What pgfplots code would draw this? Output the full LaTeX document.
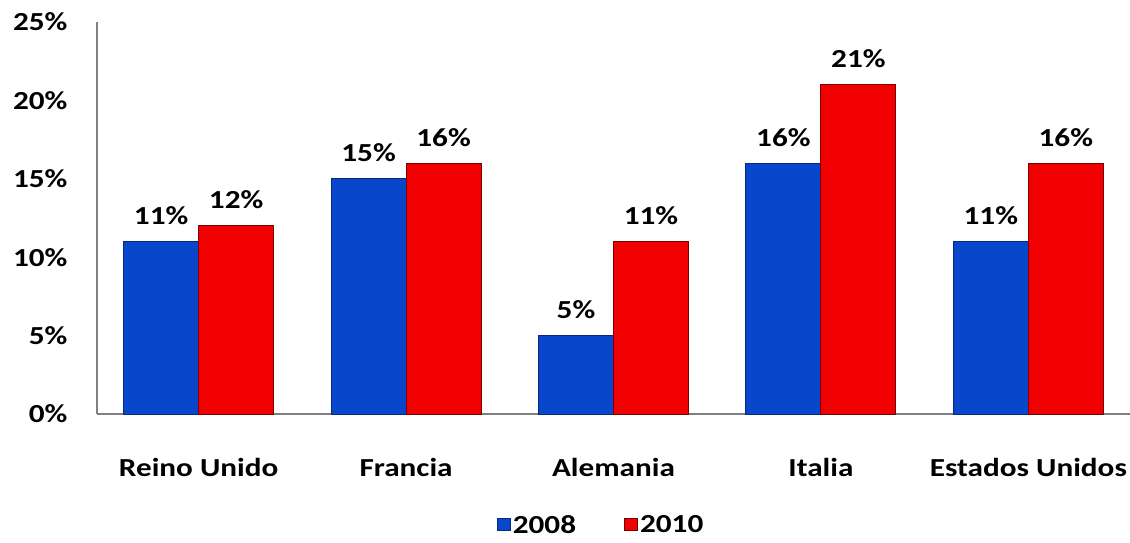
\documentclass[border=0pt]{standalone}
\usepackage{fontspec}
\setmainfont{Carlito}[FakeStretch=1.2]
\usepackage{pgfplots}
\pgfplotsset{compat=1.18}
\definecolor{barblue}{RGB}{8,70,204}
\definecolor{barblueedge}{RGB}{10,40,120}
\definecolor{barred}{RGB}{240,0,0}
\definecolor{barrededge}{RGB}{120,0,0}
\definecolor{axisgray}{RGB}{128,128,128}
\newcommand{\lab}{\fontsize{26}{30}\selectfont\bfseries}
\begin{document}
\begin{tikzpicture}
\begin{axis}[
  at={(0,0)}, anchor=south west,
  scale only axis,
  width=1033pt, height=392pt,
  ybar=0pt, bar width=75pt,
  xmin=-0.49, xmax=4.49,
  ymin=0, ymax=25,
  xtick={0,1,2,3,4},
  xticklabels={Reino Unido,Francia,Alemania,Italia,Estados Unidos},
  ytick={0,5,10,15,20,25},
  yticklabels={0\%,5\%,10\%,15\%,20\%,25\%},
  major tick length=0pt,
  axis x line*=bottom, axis y line*=left,
  axis line style={draw=axisgray, line width=1.5pt, -},
  every tick label/.append style={font=\lab, text=black},
  xticklabel style={yshift=-41pt},
  yticklabel style={xshift=-26pt},
  nodes near coords={\pgfmathprintnumber[assume math mode=true]{\pgfplotspointmeta}\%},
  every node near coord/.append style={font=\lab, text=black, yshift=13pt},
  legend columns=2,
  legend style={at={(0.488,-0.283)}, anchor=center, draw=none,
    font=\lab,
    /tikz/every even column/.append style={column sep=46pt}},
  legend image code/.code={\draw[#1] (0pt,-6pt) rectangle (13pt,6pt);},
  clip=false,
]
\addplot[fill=barblue, draw=barblueedge, line width=1pt] coordinates {(0,11) (1,15) (2,5) (3,16) (4,11)};
\addplot[fill=barred, draw=barrededge, line width=1pt] coordinates {(0,12) (1,16) (2,11) (3,21) (4,16)};
\legend{2008,2010}
\end{axis}
\pgfresetboundingbox
\path (-97pt,-129pt) rectangle (1033pt,414pt);
\end{tikzpicture}
\end{document}
